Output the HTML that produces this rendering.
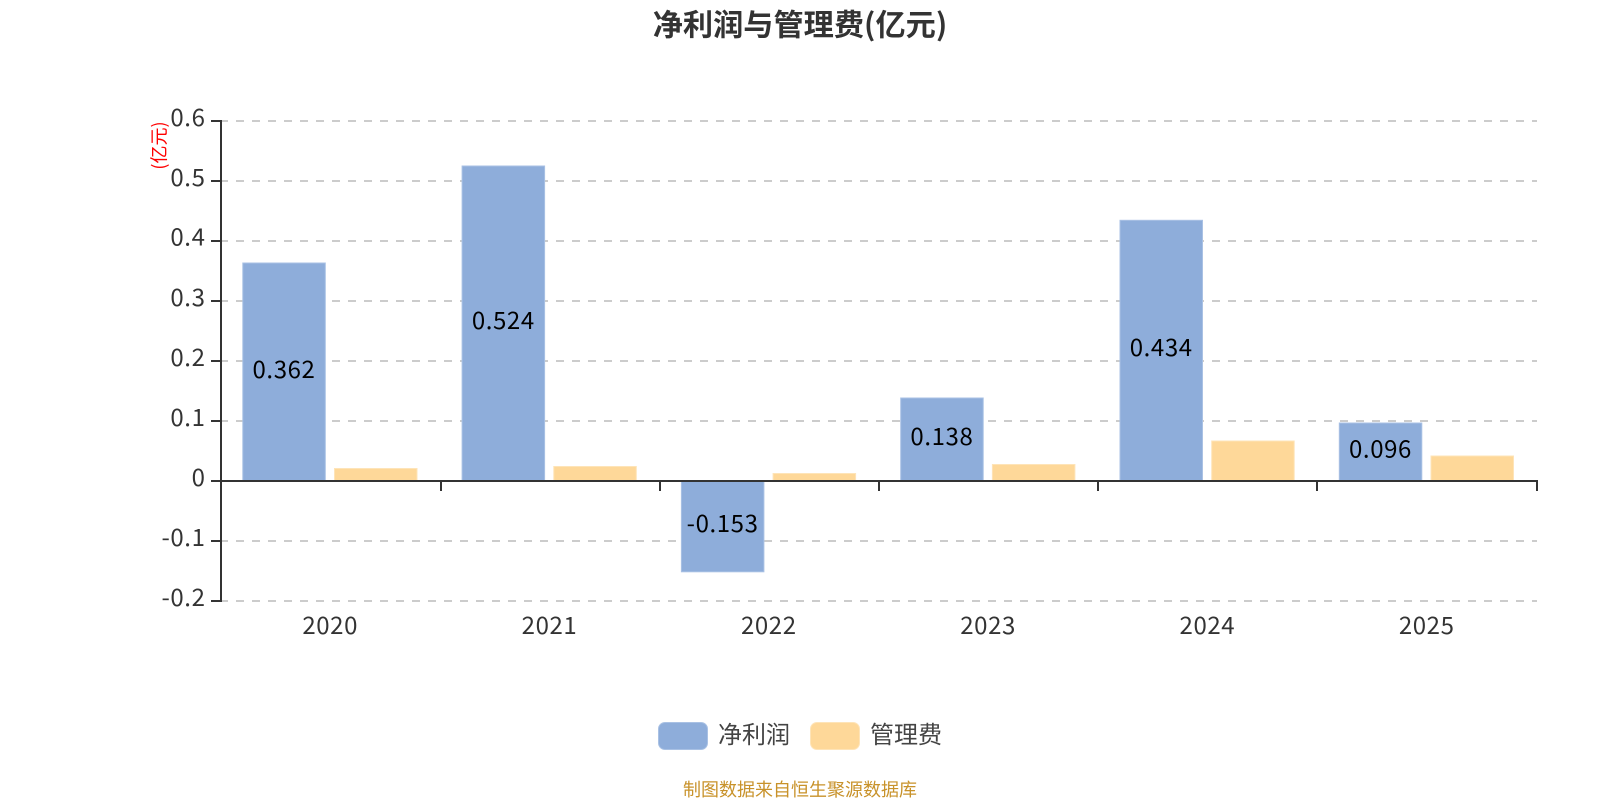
<!DOCTYPE html>
<html>
<head>
<meta charset="utf-8">
<style>
html,body{margin:0;padding:0;background:#fff;width:1600px;height:800px;overflow:hidden}
svg{display:block}
text{font-family:"Noto Sans CJK SC",sans-serif}
.num{letter-spacing:.6px}
</style>
</head>
<body>
<svg width="1600" height="800" viewBox="0 0 1600 800" xmlns="http://www.w3.org/2000/svg">
<rect width="1600" height="800" fill="#fff"/>
<text x="800" y="35.500" text-anchor="middle" font-size="30.200" font-weight="700" fill="#333">净利润与管理费(亿元)</text>

<g stroke="#ccc" stroke-width="2" stroke-dasharray="8 8" fill="none">
<path d="M220 121H1537"/><path d="M220 181H1537"/><path d="M220 241H1537"/><path d="M220 301H1537"/><path d="M220 361H1537"/><path d="M220 421H1537"/><path d="M220 541H1537"/><path d="M220 601H1537"/>
</g>

<g fill="#8eadda" stroke="#a9c1e4" stroke-width="1">
<rect x="242.800" y="263" width="82.500" height="218"/>
<rect x="462.100" y="166" width="82.500" height="315"/>
<rect x="681.400" y="481" width="82.500" height="90.800"/>
<rect x="900.700" y="398" width="82.500" height="83"/>
<rect x="1120" y="220.300" width="82.500" height="260.700"/>
<rect x="1339.300" y="423" width="82.500" height="58"/>
</g>
<g fill="#fed899" stroke="#fee4b8" stroke-width="1">
<rect x="334.500" y="468.500" width="82.500" height="12.500"/>
<rect x="553.800" y="466.500" width="82.500" height="14.500"/>
<rect x="773.100" y="473.500" width="82.500" height="7.500"/>
<rect x="992.400" y="464.500" width="82.500" height="16.500"/>
<rect x="1211.700" y="441" width="82.500" height="40"/>
<rect x="1431" y="456" width="82.500" height="25"/>
</g>

<g stroke="#333" stroke-width="2" fill="none">
<path d="M221 120V602"/>
<path d="M211 121H221M211 181H221M211 241H221M211 301H221M211 361H221M211 421H221M211 541H221M211 601H221"/>
<path d="M211 481H1538"/>
<path d="M441 481V491M660 481V491M879 481V491M1098 481V491M1317 481V491M1537 481V491"/>
</g>

<g font-size="24" fill="#333" text-anchor="end">
<text class="num" x="205.500" y="126">0.6</text>
<text class="num" x="205.500" y="186">0.5</text>
<text class="num" x="205.500" y="245.500">0.4</text>
<text class="num" x="205.500" y="306">0.3</text>
<text class="num" x="205.500" y="366">0.2</text>
<text class="num" x="205.500" y="426">0.1</text>
<text class="num" x="205.500" y="486">0</text>
<text class="num" x="205.500" y="546">-0.1</text>
<text class="num" x="205.500" y="606">-0.2</text>
</g>

<g font-size="24" fill="#333" text-anchor="middle">
<text class="num" x="330.200" y="634">2020</text>
<text class="num" x="549.500" y="634">2021</text>
<text class="num" x="768.800" y="634">2022</text>
<text class="num" x="988.100" y="634">2023</text>
<text class="num" x="1207.400" y="634">2024</text>
<text class="num" x="1426.700" y="634">2025</text>
</g>

<g font-size="24" fill="#000" text-anchor="middle">
<text class="num" x="284" y="378">0.362</text>
<text class="num" x="503.300" y="329">0.524</text>
<text class="num" x="722.600" y="532">-0.153</text>
<text class="num" x="941.900" y="445">0.138</text>
<text class="num" x="1161.200" y="356">0.434</text>
<text class="num" x="1380.500" y="457.500">0.096</text>
</g>

<text transform="translate(165.500 145.500) rotate(-90)" text-anchor="middle" font-size="18" fill="#f00">(亿元)</text>

<rect x="658.500" y="722.500" width="49" height="27" rx="6.500" fill="#8eadda" stroke="#a9c1e4"/>
<text x="718" y="743" font-size="24" fill="#444">净利润</text>
<rect x="810.500" y="722.500" width="49" height="27" rx="6.500" fill="#fed899" stroke="#fee4b8"/>
<text x="870" y="743" font-size="24" fill="#444">管理费</text>

<text x="800" y="796" text-anchor="middle" font-size="18" fill="#c8922a">制图数据来自恒生聚源数据库</text>
</svg>
</body>
</html>
